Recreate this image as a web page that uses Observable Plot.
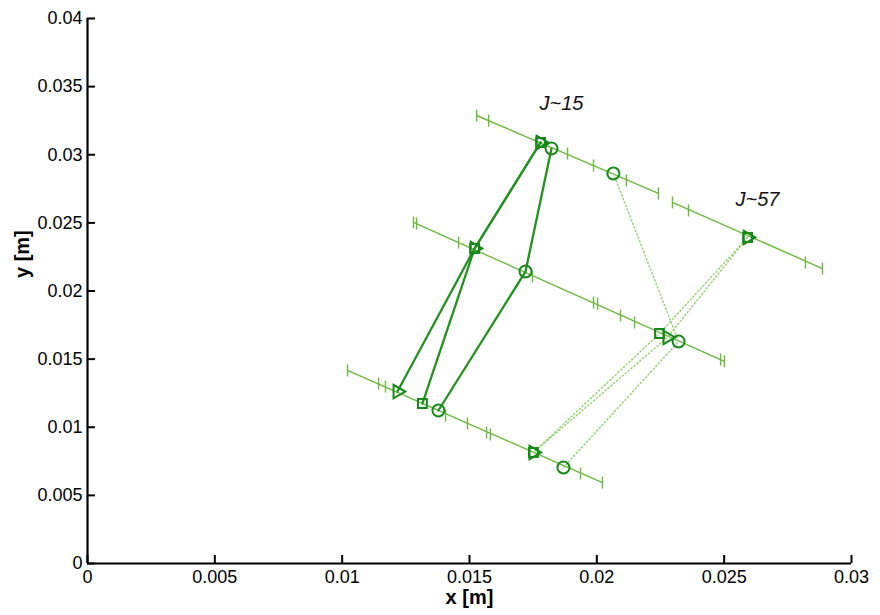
<!DOCTYPE html>
<html>
<head>
<meta charset="utf-8">
<script src="https://cdn.jsdelivr.net/npm/d3@7"></script>
<script src="https://cdn.jsdelivr.net/npm/@observablehq/plot@0.6"></script>
<style>
  html, body { margin: 0; padding: 0; background: #ffffff; }
  #chart { width: 880px; height: 615px; }
</style>
</head>
<body>
<div id="chart"></div>
<script>
// Axis ticks
const xTicks = [0, 0.005, 0.01, 0.015, 0.02, 0.025, 0.03];
const yTicks = [0, 0.005, 0.01, 0.015, 0.02, 0.025, 0.03, 0.035, 0.04];

// Graduated reference lines (start and end point of each)
const rulerX1 = [0.01528, 0.01280, 0.01021, 0.02297];
const rulerY1 = [0.03288, 0.02503, 0.01417, 0.02650];
const rulerX2 = [0.02242, 0.02501, 0.02022, 0.02886];
const rulerY2 = [0.02716, 0.01483, 0.00594, 0.02165];

// Graduation marks along those lines
const gradX = [
  0.01528, 0.01575, 0.01885, 0.01987, 0.02116, 0.02242,
  0.01280, 0.01292, 0.01457, 0.01747, 0.01987, 0.02003, 0.02093, 0.02148, 0.02486, 0.02501,
  0.01021, 0.01143, 0.01170, 0.01406, 0.01492, 0.01567, 0.01582, 0.01936, 0.02022,
  0.02297, 0.02360, 0.02819, 0.02886
];
const gradY = [
  0.03288, 0.03251, 0.03009, 0.02921, 0.02811, 0.02716,
  0.02503, 0.02495, 0.02356, 0.02106, 0.01916, 0.01908, 0.01820, 0.01769, 0.01497, 0.01483,
  0.01417, 0.01321, 0.01299, 0.01086, 0.01028, 0.00961, 0.00947, 0.00661, 0.00594,
  0.02650, 0.02591, 0.02209, 0.02165
];

// Tracked points, J~15 (solid) — [x, y] from top line to bottom line
const tri15  = [[0.01779, 0.03090], [0.01520, 0.02312], [0.01217, 0.01262]];
const sq15   = [[0.01779, 0.03090], [0.01520, 0.02312], [0.01315, 0.01174]];
const circ15 = [[0.01822, 0.03046], [0.01720, 0.02143], [0.01378, 0.01123]];

// Tracked points, J~57 (dotted)
const tri57  = [[0.02592, 0.02393], [0.02277, 0.01659], [0.01751, 0.00815]];
const sq57   = [[0.02592, 0.02393], [0.02246, 0.01688], [0.01751, 0.00815]];
const circ57 = [[0.02065, 0.02862], [0.02321, 0.01629], [0.01869, 0.00705]];

// Annotations
const labelText = ["J~15", "J~57"];
const labelX = [0.01861, 0.02631];
const labelY = [0.03376, 0.02672];

// ---- tables built from the arrays above ----
const rulers = rulerX1.map((x1, i) => ({x1, y1: rulerY1[i], x2: rulerX2[i], y2: rulerY2[i]}));
const grads = gradX.map((x, i) => ({x, y: gradY[i]}));

const seriesDefs = [
  {pts: tri15, shape: "triangle", group: "J15", id: "t15"},
  {pts: sq15, shape: "square", group: "J15", id: "s15"},
  {pts: circ15, shape: "circle", group: "J15", id: "c15"},
  {pts: tri57, shape: "triangle", group: "J57", id: "t57"},
  {pts: sq57, shape: "square", group: "J57", id: "s57"},
  {pts: circ57, shape: "circle", group: "J57", id: "c57"}
];
const points = seriesDefs.flatMap(s => s.pts.map(([x, y]) => ({x, y, shape: s.shape, group: s.group, id: s.id})));
const labels = labelText.map((t, i) => ({text: t, x: labelX[i], y: labelY[i]}));

// short vertical bar used as the graduation mark
const vbar = {
  draw(context, size) {
    const h = Math.sqrt(size / Math.PI);
    context.moveTo(0, -h);
    context.lineTo(0, h);
  }
};

const rulerColor = "#6cb840";
const markColor = "#17891a";
const solidColor = "#23921f";
const dotColor = "#9ad278";

const chart = Plot.plot({
  width: 880,
  height: 615,
  marginLeft: 87,
  marginRight: 29,
  marginTop: 18,
  marginBottom: 52,
  style: {fontFamily: "'Liberation Sans', Arial, sans-serif", fontSize: "18px", color: "#000", background: "#fff"},
  x: {domain: [0, 0.03]},
  y: {domain: [0, 0.04]},
  marks: [
    Plot.axisX({ticks: xTicks, tickFormat: d => String(d), tickSize: -8, tickPadding: 15, strokeWidth: 2, label: null, fontSize: 18}),
    Plot.axisY({ticks: yTicks, tickFormat: d => String(d), tickSize: -8, tickPadding: 13, strokeWidth: 2, label: null, fontSize: 18}),
    Plot.ruleX([0], {stroke: "#000", strokeWidth: 2.2}),
    Plot.ruleY([0], {stroke: "#000", strokeWidth: 2.2}),
    Plot.text(["x [m]"], {frameAnchor: "bottom", dy: 40, fontWeight: "bold", fontSize: 20, text: d => d}),
    Plot.text(["y [m]"], {frameAnchor: "left", dx: -65, dy: -13, rotate: -90, fontWeight: "bold", fontSize: 20, text: d => d}),

    Plot.link(rulers, {x1: "x1", y1: "y1", x2: "x2", y2: "y2", stroke: rulerColor, strokeWidth: 1.4}),
    Plot.dot(grads, {x: "x", y: "y", symbol: vbar, r: 6, stroke: rulerColor, strokeWidth: 1.4}),

    Plot.line(points.filter(d => d.group === "J57"), {x: "x", y: "y", z: "id", stroke: dotColor, strokeWidth: 1.5, strokeDasharray: "1.2,2.6"}),
    Plot.line(points.filter(d => d.group === "J15"), {x: "x", y: "y", z: "id", stroke: solidColor, strokeWidth: 2.3}),

    Plot.dot(points.filter(d => d.shape === "circle"), {x: "x", y: "y", symbol: "circle", r: 6, stroke: markColor, strokeWidth: 2, fill: "none"}),
    Plot.dot(points.filter(d => d.shape === "square"), {x: "x", y: "y", symbol: "square", r: 5, stroke: markColor, strokeWidth: 2, fill: "none"}),
    Plot.dot(points.filter(d => d.shape === "triangle"), {x: "x", y: "y", symbol: "triangle", r: 5, rotate: 90, stroke: markColor, strokeWidth: 2, fill: "none"}),

    Plot.text(labels, {x: "x", y: "y", text: "text", fontStyle: "italic", fontSize: 20, fill: "#111"})
  ]
});

document.getElementById("chart").appendChild(chart);
</script>
</body>
</html>
